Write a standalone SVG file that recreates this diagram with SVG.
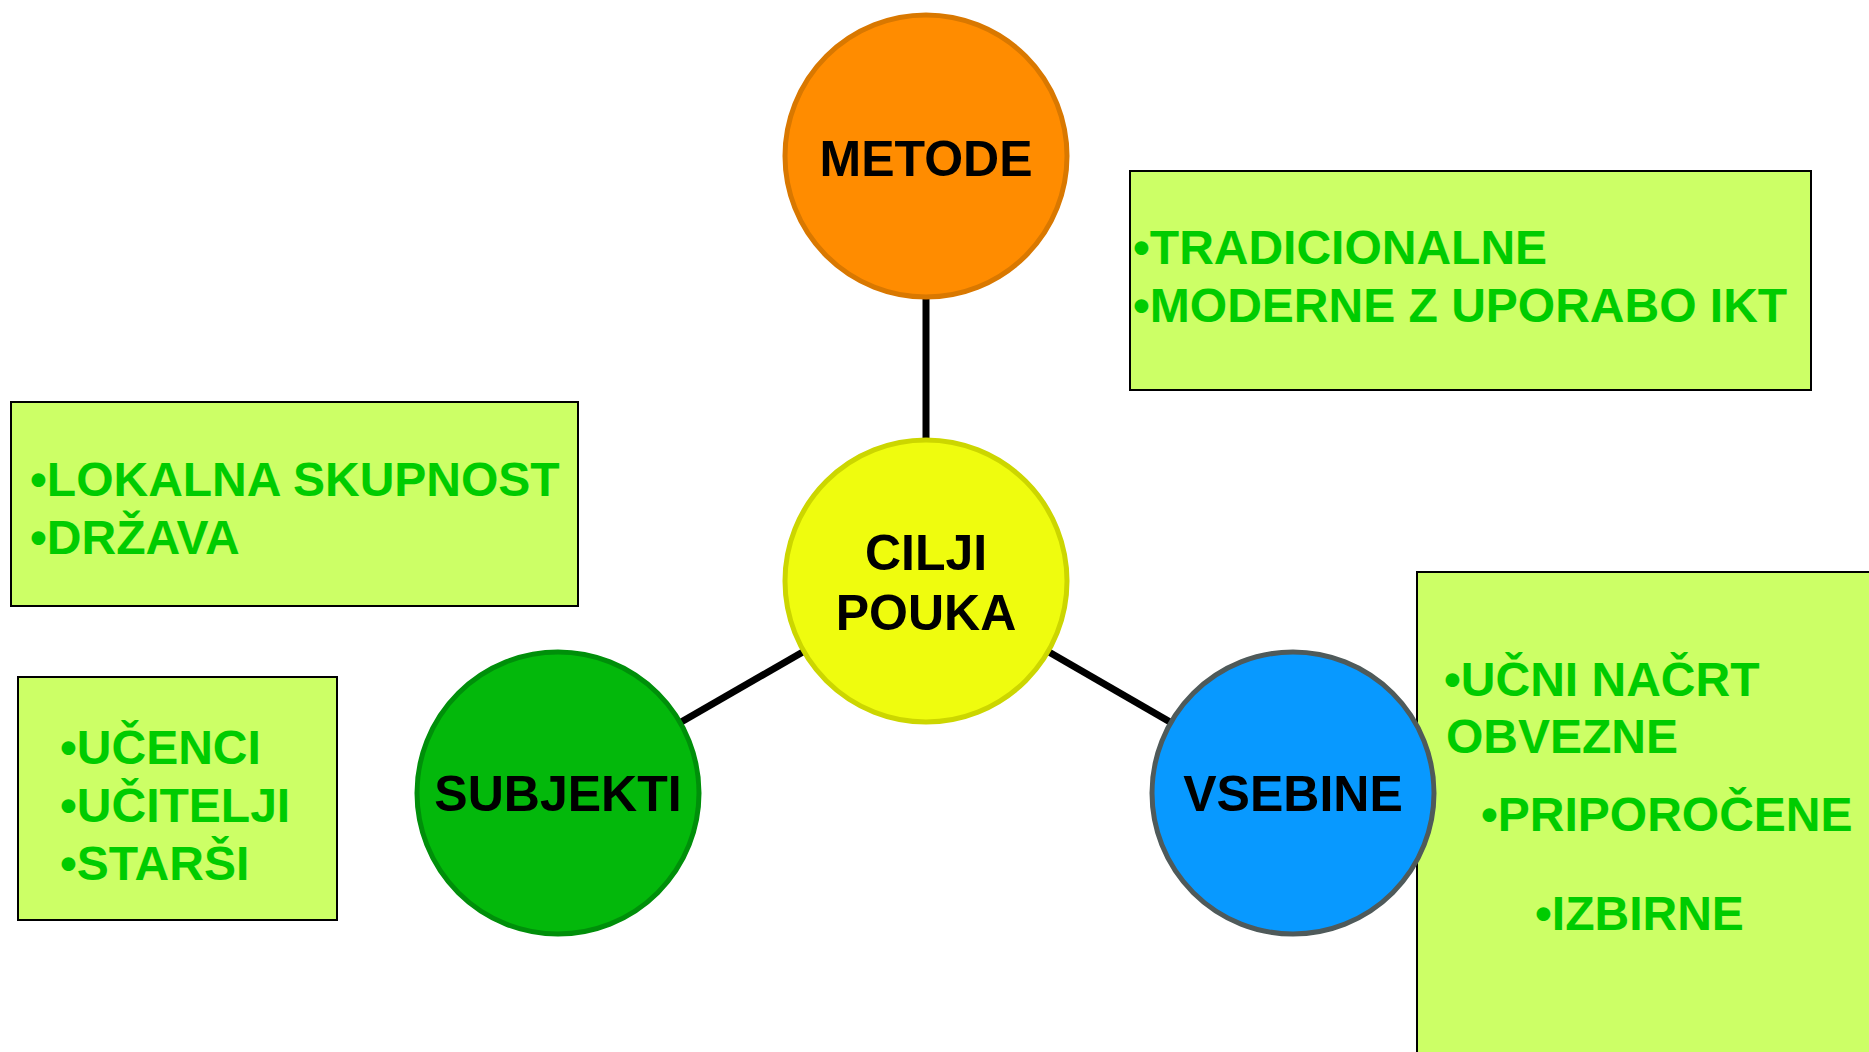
<svg xmlns="http://www.w3.org/2000/svg" width="1869" height="1052" viewBox="0 0 1869 1052">
<style>
.box{fill:#CCFF66;stroke:#000;stroke-width:2}
.bt{font-family:"Liberation Sans",Arial,sans-serif;font-weight:bold;font-size:48px;fill:#00CC00}
.nt{font-family:"Liberation Sans",Arial,sans-serif;font-weight:bold;font-size:50px;fill:#000;text-anchor:middle}
.conn{stroke:#000;stroke-width:7;fill:none}
</style>
<rect width="1869" height="1052" fill="#fff"/>
<g id="box-metode">
<rect class="box" x="1130" y="171" width="681" height="219"/>
<text class="bt" x="1133" y="264">•TRADICIONALNE</text>
<text class="bt" x="1133" y="322">•MODERNE Z UPORABO IKT</text>
</g>
<g id="box-lokalna">
<rect class="box" x="11" y="402" width="567" height="204"/>
<text class="bt" x="30" y="496">•LOKALNA SKUPNOST</text>
<text class="bt" x="30" y="554">•DRŽAVA</text>
</g>
<g id="box-subjekti">
<rect class="box" x="18" y="677" width="319" height="243"/>
<text class="bt" x="60" y="764">•UČENCI</text>
<text class="bt" x="60" y="822">•UČITELJI</text>
<text class="bt" x="60" y="880">•STARŠI</text>
</g>
<g id="box-vsebine">
<rect class="box" x="1417" y="572" width="480" height="500"/>
<text class="bt" x="1444" y="696">•UČNI NAČRT</text>
<text class="bt" x="1446" y="753">OBVEZNE</text>
<text class="bt" x="1481" y="831">•PRIPOROČENE</text>
<text class="bt" x="1535" y="930">•IZBIRNE</text>
</g>
<g id="connectors">
<line class="conn" x1="926" y1="156" x2="926" y2="581"/>
<line class="conn" x1="926" y1="581" x2="558" y2="793"/>
<line class="conn" x1="926" y1="581" x2="1293" y2="793"/>
</g>
<g id="metode">
<circle cx="926" cy="156" r="141" fill="#FF8C00" stroke="#D97800" stroke-width="5"/>
<text class="nt" x="926" y="176">METODE</text>
</g>
<g id="cilji">
<circle cx="926" cy="581" r="141" fill="#EFFC0E" stroke="#CCD600" stroke-width="5"/>
<text class="nt" x="926" y="570">CILJI</text>
<text class="nt" x="926" y="630">POUKA</text>
</g>
<g id="subjekti">
<circle cx="558" cy="793" r="141" fill="#03B80B" stroke="#008F0A" stroke-width="5"/>
<text class="nt" x="558" y="811">SUBJEKTI</text>
</g>
<g id="vsebine">
<circle cx="1293" cy="793" r="141" fill="#0899FF" stroke="#4F5A5A" stroke-width="5"/>
<text class="nt" x="1293" y="811">VSEBINE</text>
</g>
</svg>
